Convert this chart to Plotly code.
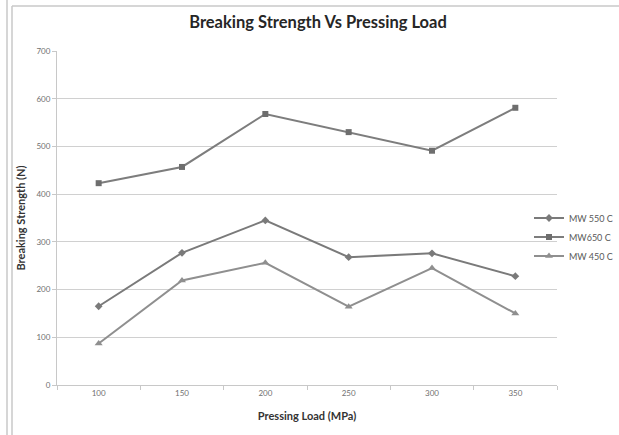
import plotly.graph_objects as go

categories = ["100", "150", "200", "250", "300", "350"]
mw550 = [165, 277, 345, 268, 276, 228]
mw650 = [423, 457, 568, 530, 491, 581]
mw450 = [87, 219, 256, 164, 245, 150]
y_ticks = [0, 100, 200, 300, 400, 500, 600, 700]

W, H = 619, 435
L, R, T, B = 57, 62, 51, 50
pw, ph = W - L - R, H - T - B

def px(x):
    return (x - L) / pw

def py(y):
    return (H - B - y) / ph

fig = go.Figure()
fig.add_trace(go.Scatter(x=categories, y=mw550, name="MW 550 C", mode="lines+markers",
                         line=dict(color="#7a7a7a", width=2),
                         marker=dict(symbol="diamond", size=6, color="#7a7a7a")))
fig.add_trace(go.Scatter(x=categories, y=mw650, name="MW650 C", mode="lines+markers",
                         line=dict(color="#7d7d7d", width=2),
                         marker=dict(symbol="square", size=6, color="#6e6e6e")))
fig.add_trace(go.Scatter(x=categories, y=mw450, name="MW 450 C", mode="lines+markers",
                         line=dict(color="#8f8f8f", width=2),
                         marker=dict(symbol="triangle-up", size=7, color="#8f8f8f")))

font_family = "Lato, Open Sans, sans-serif"
fig.update_layout(
    width=W, height=H,
    margin=dict(l=L, r=R, t=T, b=B, autoexpand=False),
    paper_bgcolor="white", plot_bgcolor="white",
    font=dict(family=font_family, color="#595959"),
    title=dict(text="<b>Breaking Strength Vs Pressing Load</b>", x=318 / W, xanchor="center",
               y=1 - 22 / H, yanchor="middle",
               font=dict(size=16.5, color="#262626", family=font_family)),
    showlegend=True,
    legend=dict(x=px(529), xanchor="left", y=py(237), yanchor="middle",
                font=dict(size=9, color="#595959"), bgcolor="rgba(0,0,0,0)",
                itemwidth=30, tracegroupgap=0),
    xaxis=dict(type="category", range=[-0.5, 5.5], showgrid=False,
               showline=True, linecolor="#c8c8c8", linewidth=1,
               ticks="outside", ticklen=4, tickcolor="#c8c8c8", tickson="boundaries",
               tickfont=dict(size=8, color="#707070"),
               title=dict(text="<b>Pressing Load (MPa)</b>", standoff=15,
                          font=dict(size=11, color="#333333"))),
    yaxis=dict(range=[0, 700], tickvals=y_ticks, showgrid=True, gridcolor="#d0d0d0", gridwidth=1,
               showline=True, linecolor="#c8c8c8", linewidth=1, zeroline=False,
               ticks="outside", ticklen=4, tickcolor="#c8c8c8",
               tickfont=dict(size=8, color="#707070"),
               title=dict(text="<b>Breaking Strength (N)</b>", standoff=8,
                          font=dict(size=11, color="#333333"))),
)

# Outer frame lines
fig.add_shape(type="line", xref="paper", yref="paper", x0=px(7), x1=px(7), y0=py(0), y1=py(H),
              line=dict(color="#c8c8c8", width=1.5))
fig.add_shape(type="line", xref="paper", yref="paper", x0=px(12), x1=px(12), y0=py(6), y1=py(H),
              line=dict(color="#c8c8c8", width=1.5))
fig.add_shape(type="line", xref="paper", yref="paper", x0=px(12), x1=px(W), y0=py(6), y1=py(6),
              line=dict(color="#c8c8c8", width=1.5))

fig.write_html("out.html")
